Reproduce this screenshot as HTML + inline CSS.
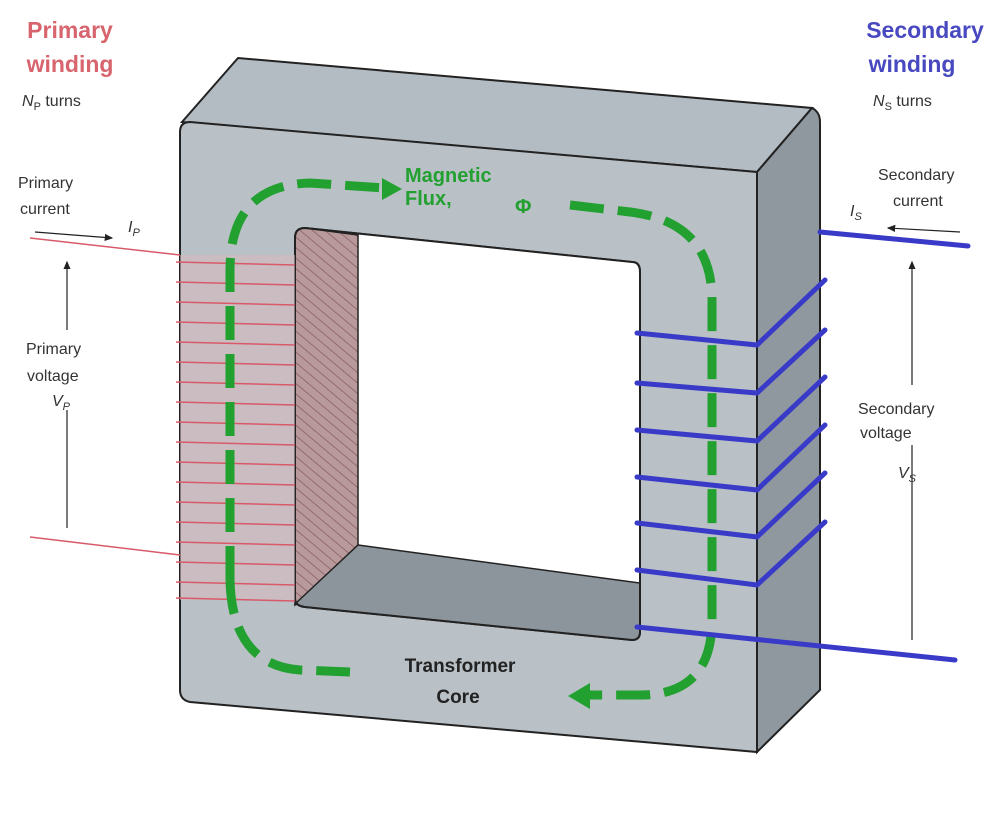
<!DOCTYPE html>
<html><head><meta charset="utf-8"><style>
html,body{margin:0;padding:0;background:#fff;}
svg{display:block;}
text{font-family:"Liberation Sans",sans-serif;}
</style></head><body>
<svg width="997" height="823" viewBox="0 0 997 823" xmlns="http://www.w3.org/2000/svg">
<defs>
<pattern id="hatch" width="8" height="8" patternUnits="userSpaceOnUse" patternTransform="rotate(-50)">
<rect width="8" height="8" fill="#b89a9c"/><line x1="0" y1="0" x2="0" y2="8" stroke="#8a5a60" stroke-width="1.5"/>
</pattern>
<marker id="ah" markerWidth="8" markerHeight="8" refX="6" refY="4" orient="auto"><path d="M0,1 L7,4 L0,7 z" fill="#222"/></marker>
</defs>
<!-- top face -->
<path d="M182,122 L238,58 L812,108 L757,172 Z" fill="#b4bcc3" stroke="#222" stroke-width="2"/>
<!-- right face -->
<path d="M757,172 L812,108 Q820,112 820,122 L820,690 L757,752 Z" fill="#8f989f" stroke="#222" stroke-width="2"/>
<!-- front face with hole -->
<path d="M190,122 L757,172 L757,752 L190,702 Q180,700 180,690 L180,132 Q180,122 190,122 Z M305,228 Q295,228 295,238 L295,598 Q295,606 305,607 L632,640 Q640,640 640,632 L640,272 Q640,262 632,262 Z" fill-rule="evenodd" fill="#b9c0c6" stroke="#222" stroke-width="2"/>
<!-- hole interior -->
<path d="M305,228 L632,262 Q640,262 640,272 L640,632 Q640,640 632,640 L305,607 Q295,606 295,598 L295,238 Q295,228 305,228 Z" fill="#fff"/>
<path d="M295,238 Q295,228 305,228 L358,235 L358,545 L295,605 Z" fill="url(#hatch)" stroke="#222" stroke-width="1.5"/>
<path d="M358,545 L640,583 L640,632 Q640,640 632,640 L305,607 L295,604 Z" fill="#8d959c" stroke="#222" stroke-width="1.5"/>
<path d="M305,228 L632,262 Q640,262 640,272 L640,632 Q640,640 632,640 L305,607 Q295,606 295,598 L295,238 Q295,228 305,228 Z" fill="none" stroke="#222" stroke-width="2"/>
<!-- primary winding -->
<rect x="180" y="255" width="115" height="345" fill="#d9b8bd" opacity="0.55"/>
<g stroke="#d85a6a" stroke-width="1.5">
<line x1="30" y1="238" x2="180" y2="255"/>
<line x1="30" y1="537" x2="180" y2="555"/>
<line x1="176" y1="262" x2="295" y2="265"/><line x1="176" y1="282" x2="295" y2="285"/>
<line x1="176" y1="302" x2="295" y2="305"/><line x1="176" y1="322" x2="295" y2="325"/>
<line x1="176" y1="342" x2="295" y2="345"/><line x1="176" y1="362" x2="295" y2="365"/>
<line x1="176" y1="382" x2="295" y2="385"/><line x1="176" y1="402" x2="295" y2="405"/>
<line x1="176" y1="422" x2="295" y2="425"/><line x1="176" y1="442" x2="295" y2="445"/>
<line x1="176" y1="462" x2="295" y2="465"/><line x1="176" y1="482" x2="295" y2="485"/>
<line x1="176" y1="502" x2="295" y2="505"/><line x1="176" y1="522" x2="295" y2="525"/>
<line x1="176" y1="542" x2="295" y2="545"/><line x1="176" y1="562" x2="295" y2="565"/>
<line x1="176" y1="582" x2="295" y2="585"/><line x1="176" y1="598" x2="295" y2="601"/>
</g>
<!-- flux -->
<path d="M230,580 L230,270 Q230,185 310,183 L385,188" fill="none" stroke="#22a030" stroke-width="9" stroke-dasharray="34,14"/>
<path d="M382,178 L402,189 L382,200 Z" fill="#22a030"/>
<path d="M570,205 L630,212 Q712,222 712,300 L712,620 Q712,695 640,695 L590,695" fill="none" stroke="#22a030" stroke-width="9" stroke-dasharray="34,14"/>
<path d="M590,683 L568,696 L590,709 Z" fill="#22a030"/>
<path d="M230,580 Q232,665 300,670 L350,672" fill="none" stroke="#22a030" stroke-width="9" stroke-dasharray="34,14"/>
<!-- secondary winding -->
<g stroke="#3a3ac8" stroke-width="5" fill="none" stroke-linecap="round">
<line x1="820" y1="232" x2="968" y2="246"/>
<path d="M637,333 L757,345 L825,280"/>
<path d="M637,383 L757,393 L825,330"/>
<path d="M637,430 L757,441 L825,377"/>
<path d="M637,477 L757,490 L825,425"/>
<path d="M637,523 L757,537 L825,473"/>
<path d="M637,570 L757,585 L825,522"/>
<path d="M637,627 L955,660"/>
</g>
<!-- voltage/current arrows -->
<g stroke="#222" stroke-width="1.2">
<line x1="67" y1="528" x2="67" y2="262" marker-end="url(#ah)"/>
<line x1="35" y1="232" x2="112" y2="238" marker-end="url(#ah)"/>
<line x1="912" y1="640" x2="912" y2="262" marker-end="url(#ah)"/>
<line x1="960" y1="232" x2="888" y2="228" marker-end="url(#ah)"/>
</g>
<rect x="855" y="385" width="110" height="60" fill="#fff"/>
<rect x="20" y="330" width="90" height="80" fill="#fff"/>
<!-- texts -->
<g fill="#d8646e" font-weight="bold" font-size="23" text-anchor="middle">
<text x="70" y="38">Primary</text><text x="70" y="72">winding</text></g>
<g fill="#4848c0" font-weight="bold" font-size="23" text-anchor="middle">
<text x="925" y="38">Secondary</text><text x="912" y="72">winding</text></g>
<g fill="#333" font-size="16">
<text x="22" y="106"><tspan font-style="italic">N</tspan><tspan font-size="11" dy="4">P</tspan><tspan dy="-4"> turns</tspan></text>
<text x="873" y="106"><tspan font-style="italic">N</tspan><tspan font-size="11" dy="4">S</tspan><tspan dy="-4"> turns</tspan></text>
<text x="18" y="188">Primary</text><text x="20" y="214">current</text>
<text x="128" y="232" font-style="italic">I<tspan font-size="11" dy="4">P</tspan></text>
<text x="878" y="180">Secondary</text><text x="893" y="206">current</text>
<text x="850" y="216" font-style="italic">I<tspan font-size="11" dy="4">S</tspan></text>
<text x="26" y="354">Primary</text><text x="27" y="381">voltage</text>
<text x="52" y="406" font-style="italic">V<tspan font-size="11" dy="4">P</tspan></text>
<text x="858" y="414">Secondary</text><text x="860" y="438">voltage</text>
<text x="898" y="478" font-style="italic">V<tspan font-size="11" dy="4">S</tspan></text>
</g>
<g fill="#22a030" font-weight="bold" font-size="20">
<text x="405" y="182">Magnetic</text><text x="405" y="205">Flux,</text><text x="515" y="213">Φ</text></g>
<g fill="#222" font-weight="bold" font-size="19" text-anchor="middle">
<text x="460" y="672">Transformer</text><text x="458" y="703">Core</text></g>
</svg>
</body></html>
